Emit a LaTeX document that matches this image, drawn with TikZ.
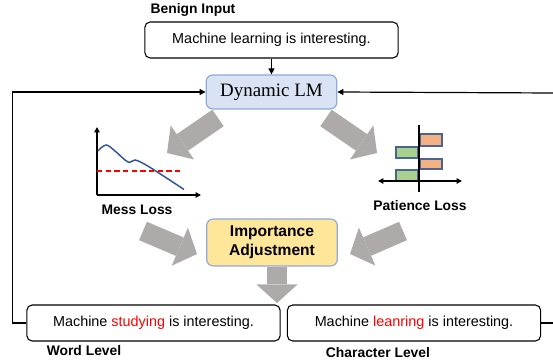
\documentclass[tikz,border=0pt]{standalone}
\usepackage{fontspec}
\setmainfont{Liberation Sans}
\newfontfamily\lmserif{Liberation Serif}
\usetikzlibrary{arrows.meta}
\definecolor{lmfill}{HTML}{DAE3F3}
\definecolor{lmdraw}{HTML}{8FAADC}
\definecolor{adjfill}{HTML}{FFE699}
\definecolor{fatgray}{HTML}{AEAAAA}
\definecolor{curveblue}{HTML}{2F5597}
\definecolor{barorange}{HTML}{F4B183}
\definecolor{bargreen}{HTML}{A9D18E}
\definecolor{barline}{HTML}{4A6590}
\begin{document}
\begin{tikzpicture}[x=0.75pt,y=-0.75pt,
  textbox/.style={draw, line width=0.8pt, rounded corners=4pt, minimum width=190pt, minimum height=27pt, inner sep=0pt, font=\fontsize{10.8}{13}\selectfont},
  lmbox/.style={draw=lmdraw, fill=lmfill, line width=0.9pt, rounded corners=5pt, minimum width=98pt, minimum height=25.5pt, inner sep=0pt},
  label/.style={font=\fontsize{10.4}{12}\selectfont\bfseries},
  link/.style={line width=0.9pt, -{Triangle[length=4.5pt,width=4.5pt]}},
  fat/.style={draw=fatgray, line width=15pt, -{Triangle[length=14pt 0,width=31pt 0,line width=0pt]}}]
\useasboundingbox (0,0) rectangle (553,363);
\node [textbox] (benign) at (271.5,40) {Machine learning is interesting.};
\node [label] (benignlbl) at (193,10) {Benign Input};
\node [lmbox, font=\lmserif\fontsize{14.2}{16}\selectfont] (dlm) at (271.5,92) {Dynamic LM};
\node [lmbox, fill=adjfill, minimum height=35.25pt, align=center, font=\fontsize{11.7}{14.2}\selectfont\bfseries] (adj) at (272,242.5) {Importance\\Adjustment};
\node [textbox] (word) at (153.5,323) {Machine \textcolor{red}{studying} is interesting.};
\node [textbox] (char) at (414,323) {Machine \textcolor{red}{leanring} is interesting.};
\node [label] (wordlbl) at (84,351) {Word Level};
\node [label] (charlbl) at (378,353) {Character Level};
\node [label] (messlbl) at (137,210) {Mess Loss};
\node [label] (patlbl) at (420,206) {Patience Loss};
\coordinate (lloop) at (12.5,93);
\coordinate (redge) at (553,93);
\draw [link] (benign.south) -- (dlm.north);
\draw [link] (word.west) -- (word.west -| lloop) |- (dlm.west);
\draw [link] (redge) -- (dlm.east);
\draw [line width=0.9pt] (char.east) -- (char.east -| redge);
\draw [fat] (218,118) -- (167,153);
\draw [fat] (326,118) -- (377,153);
\draw [fat] (143,231) -- (197,254);
\draw [fat] (403,231) -- (350,254);
\draw [fat] (adj.south -| 277,0) -- (277,303);
\draw [line width=1pt, -{Triangle[length=4pt,width=4pt]}] (97,195) -- (97,127);
\draw [line width=1pt, -{Triangle[length=4pt,width=4pt]}] (97,195) -- (201,195);
\draw [curveblue, line width=1.1pt] plot [smooth, tension=0.6] coordinates {(98,151) (106,145) (115,151) (128,162) (135,160) (146,165) (165,177) (184,189.5)};
\draw [red, line width=1.1pt, dash pattern=on 4pt off 2.5pt] (97,171) -- (183,171);
\draw [fill=barorange, draw=barline, line width=0.8pt] (420,134) rectangle (442,146);
\draw [fill=bargreen, draw=barline, line width=0.8pt] (396,147) rectangle (418,158);
\draw [fill=barorange, draw=barline, line width=0.8pt] (420,159) rectangle (442,169);
\draw [fill=bargreen, draw=barline, line width=0.8pt] (396,170) rectangle (418,181);
\draw [line width=1.1pt] (419,125) -- (419,192);
\draw [line width=1pt, {Triangle[length=4pt,width=4pt]}-{Triangle[length=4pt,width=4pt]}] (378,181) -- (462,181);
\end{tikzpicture}
\end{document}
